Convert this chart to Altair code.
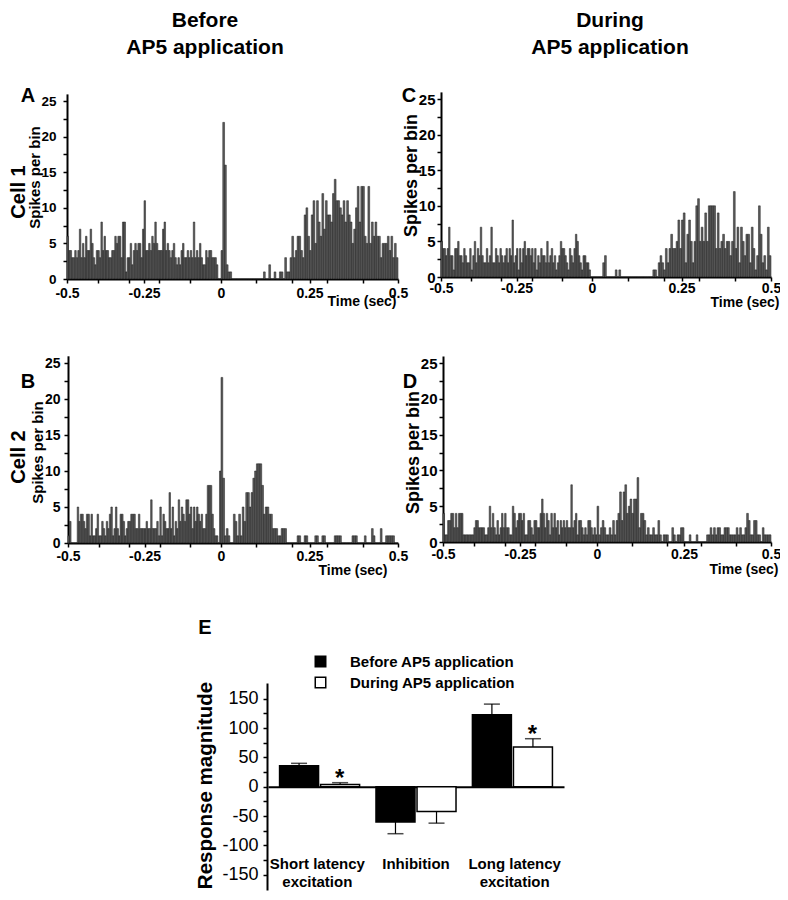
import altair as alt
import pandas as pd

FONT = "Liberation Sans"
BIN_WIDTH = 0.005
START = -0.5

# ---------------- histogram data (spikes per 5 ms bin, -0.5 .. 0.5 s) ----------------
cell1_before = [
    6, 4, 4, 3, 3, 4, 3, 4, 7, 3, 5, 3, 6, 4, 4, 7, 5, 3, 2, 4,
    4, 3, 8, 4, 6, 4, 4, 3, 3, 4, 4, 6, 5, 6, 6, 3, 8, 8, 1, 3,
    3, 5, 2, 4, 5, 4, 5, 5, 3, 7, 11, 4, 4, 5, 4, 6, 5, 8, 5, 4,
    4, 4, 7, 8, 4, 5, 4, 3, 4, 5, 3, 2, 3, 2, 4, 5, 3, 3, 4, 3,
    4, 3, 8, 3, 4, 3, 5, 3, 2, 2, 4, 3, 4, 4, 3, 3, 3, 2, 0, 0,
    4, 22, 16, 2, 1, 1, 0, 0, 0, 0, 0, 0, 0, 0, 0, 0, 0, 0, 0, 0,
    0, 0, 0, 0, 1, 0, 0, 2, 0, 0, 1, 0, 0, 1, 1, 0, 3, 1, 1, 3,
    6, 3, 4, 6, 6, 4, 3, 9, 10, 6, 4, 9, 11, 5, 11, 8, 6, 12, 7, 11,
    9, 9, 8, 12, 14, 11, 11, 10, 9, 11, 8, 11, 9, 8, 5, 7, 10, 13, 8, 13,
    13, 6, 5, 13, 5, 8, 6, 8, 6, 6, 3, 5, 5, 5, 6, 4, 6, 3, 5, 3,
]
cell1_during = [
    5, 4, 4, 3, 4, 7, 3, 3, 1, 4, 4, 5, 3, 3, 2, 4, 3, 2, 2, 4,
    1, 3, 5, 2, 4, 3, 7, 3, 2, 2, 4, 2, 3, 7, 2, 2, 4, 3, 2, 4,
    3, 2, 3, 4, 2, 4, 3, 8, 2, 3, 4, 1, 4, 2, 4, 5, 3, 4, 4, 3,
    4, 2, 4, 1, 3, 2, 4, 3, 3, 2, 5, 2, 3, 4, 2, 3, 1, 2, 3, 5,
    4, 4, 3, 2, 1, 4, 3, 2, 4, 6, 5, 3, 2, 1, 3, 3, 2, 2, 1, 0,
    0, 0, 0, 0, 0, 0, 2, 3, 0, 0, 0, 0, 0, 1, 0, 1, 0, 0, 0, 0,
    0, 0, 0, 0, 0, 0, 0, 0, 0, 0, 0, 0, 0, 0, 1, 1, 0, 2, 3, 2,
    1, 4, 2, 4, 6, 4, 4, 5, 8, 4, 8, 9, 2, 6, 8, 5, 2, 5, 10, 11,
    5, 7, 5, 9, 5, 10, 10, 10, 10, 4, 9, 4, 5, 6, 4, 5, 5, 3, 5, 12,
    4, 7, 2, 7, 5, 3, 6, 6, 2, 7, 4, 1, 3, 10, 6, 2, 3, 1, 7, 3,
]
cell2_before = [
    1, 3, 0, 0, 0, 0, 5, 3, 4, 4, 3, 2, 4, 4, 1, 4, 1, 1, 2, 4,
    1, 1, 3, 2, 1, 3, 2, 4, 5, 1, 2, 5, 2, 1, 4, 4, 3, 1, 2, 3,
    3, 4, 4, 4, 2, 2, 4, 2, 2, 2, 2, 3, 2, 2, 6, 2, 2, 2, 3, 1,
    5, 1, 4, 3, 2, 2, 7, 2, 5, 1, 3, 2, 6, 3, 5, 4, 3, 6, 6, 4,
    5, 2, 5, 3, 5, 4, 3, 4, 2, 2, 4, 8, 8, 8, 4, 2, 1, 1, 0, 10,
    23, 9, 1, 2, 1, 0, 0, 4, 3, 1, 4, 1, 5, 3, 7, 7, 5, 7, 9, 10,
    11, 11, 11, 8, 4, 5, 5, 4, 4, 2, 2, 2, 1, 1, 2, 2, 2, 0, 0, 0,
    0, 0, 0, 1, 1, 0, 0, 1, 1, 0, 0, 0, 0, 1, 1, 0, 0, 1, 1, 0,
    0, 0, 0, 0, 1, 1, 1, 1, 0, 0, 0, 0, 0, 0, 1, 1, 1, 0, 0, 0,
    0, 1, 0, 0, 0, 2, 1, 0, 0, 0, 2, 0, 0, 1, 1, 1, 1, 1, 0, 0,
]
cell2_during = [
    4, 1, 1, 3, 3, 4, 4, 2, 4, 2, 4, 4, 4, 1, 1, 1, 1, 1, 1, 1,
    2, 3, 3, 2, 2, 2, 2, 1, 1, 2, 5, 2, 4, 2, 1, 3, 1, 2, 4, 2,
    4, 2, 2, 1, 1, 5, 4, 2, 3, 4, 4, 3, 4, 1, 1, 3, 3, 2, 1, 3,
    3, 2, 2, 4, 6, 4, 2, 4, 3, 1, 4, 2, 4, 2, 3, 1, 3, 2, 3, 2,
    3, 2, 2, 8, 2, 3, 4, 1, 3, 3, 2, 1, 2, 1, 3, 3, 2, 1, 2, 1,
    5, 1, 2, 3, 2, 1, 1, 2, 1, 3, 1, 3, 4, 7, 3, 7, 8, 4, 5, 6,
    4, 6, 6, 9, 2, 4, 4, 3, 1, 2, 1, 1, 2, 1, 1, 3, 1, 0, 1, 1,
    1, 0, 0, 2, 1, 0, 1, 1, 2, 2, 0, 0, 0, 1, 0, 0, 0, 1, 0, 0,
    0, 0, 0, 1, 1, 2, 1, 2, 1, 2, 2, 1, 1, 2, 2, 2, 1, 1, 1, 1,
    2, 1, 2, 1, 1, 2, 4, 3, 1, 1, 3, 3, 1, 1, 0, 2, 1, 1, 1, 1,
]

hist_x_ticks = [-0.5, -0.4, -0.3, -0.25, -0.2, -0.1, 0, 0.1, 0.2, 0.25, 0.3, 0.4, 0.5]
hist_x_labels = [-0.5, -0.25, 0, 0.25, 0.5]
hist_y_ticks = [0, 2.5, 5, 7.5, 10, 12.5, 15, 17.5, 20, 22.5, 25]

# ---------------- panel E data ----------------
categories = ["Short latency excitation", "Inhibition", "Long latency excitation"]
category_text = ["Short latency\nexcitation", "Inhibition", "Long latency\nexcitation"]
series = ["Before AP5 application", "During AP5 application"]
before_mean = [36, -60, 123]
before_err = [4, 20, 18]
during_mean = [4, -42, 68]
during_err = [3, 20, 14]
during_significant = [True, False, True]
e_y_ticks = [-150, -125, -100, -75, -50, -25, 0, 25, 50, 75, 100, 125, 150]

header_texts = ["Before\nAP5 application", "During\nAP5 application"]
panel_letters = ["A", "B", "C", "D", "E"]
cell_texts = ["Cell 1", "Cell 2"]

W, H = 772, 884
M = 8  # page margin

XLABEL_EXPR = ("indexof([" + ",".join(str(v) for v in hist_x_labels) + "], datum.value) >= 0"
               " ? toString(datum.value) : ''")
YLABEL_EXPR = "datum.value % 5 == 0 ? toString(datum.value) : ''"


def hist_panel(counts, xs, ys, title_pos, title_size, lab_size, lab_pad, time_pos, xlab_pad):
    x0, xm, x1 = xs
    y0, ytop = ys
    df = pd.DataFrame({"start": [START + i * BIN_WIDTH for i in range(len(counts))],
                       "count": counts})
    df["end"] = df["start"] + BIN_WIDTH
    xaxis = alt.Axis(orient="bottom", offset=(y0 - M) - H, values=hist_x_ticks,
                     labelExpr=XLABEL_EXPR, labelFlush=False, labelOverlap=False,
                     title="Time (sec)", titleX=time_pos[0] - M, titleY=time_pos[1] - y0,
                     titleAlign="right", titleBaseline="middle", titleFontSize=14,
                     labelFontSize=14, labelPadding=xlab_pad, tickSize=4)
    yaxis = alt.Axis(orient="left", offset=-(x0 - M), values=hist_y_ticks,
                     labelExpr=YLABEL_EXPR, labelFlush=False, labelOverlap=False,
                     title="Spikes per bin", titleX=title_pos[0] - x0, titleY=title_pos[1] - M,
                     titleAngle=270, titleAlign="center", titleBaseline="middle",
                     titleFontSize=title_size, labelFontSize=lab_size, labelPadding=lab_pad,
                     tickSize=4)
    return alt.Chart(df).mark_bar(fill="#5e5e5e", stroke="#1a1a1a", strokeWidth=0.5).encode(
        x=alt.X("start:Q", scale=alt.Scale(domain=[-0.5, 0, 0.5],
                                           range=[x0 - M, xm - M, x1 - M], nice=False, zero=False),
                axis=xaxis),
        x2="end:Q",
        y=alt.Y("count:Q", scale=alt.Scale(domain=[0, 26], range=[y0 - M, ytop - M], nice=False),
                axis=yaxis),
        y2=alt.datum(0),
    )


hA = hist_panel(cell1_before, (67, 221, 398), (279, 93.9), (34, 177), 15, 13.5, 7, (396, 301), 3)
hC = hist_panel(cell1_during, (441, 592, 771), (277, 91.9), (411, 175), 18, 15, 2, (779, 302), 0)
hB = hist_panel(cell2_before, (68, 221, 398), (543, 355.8), (37, 452), 15, 14, 4, (387, 570), 2)
hD = hist_panel(cell2_during, (443, 597, 771), (542, 356), (413, 452), 18, 15, 2, (778, 569), 1)

# ---------------- panel E ----------------
rows = []
for i, cat in enumerate(categories):
    for name, means, errs in ((series[0], before_mean, before_err), (series[1], during_mean, during_err)):
        m, e = means[i], errs[i]
        rows.append({
            "category": cat, "series": name, "mean": m,
            "end": m + (e if m >= 0 else -e),
            "sig": "*" if (name == series[1] and during_significant[i]) else "",
        })
df_e = pd.DataFrame(rows)
df_lab = pd.DataFrame({"category": categories, "label": category_text})

E_AXIS_X = 267
E_TOP, E_BOT = 683, 890
Y_MIN, Y_MAX = -176, 177


def ex_scale():
    return alt.Scale(domain=categories, range=[268 - M, 564 - M], paddingInner=0.17, paddingOuter=0.12)


def ey_scale():
    return alt.Scale(domain=[Y_MIN, Y_MAX], range=[E_BOT - M, E_TOP - M], nice=False, zero=False)


def xoff():
    return alt.XOffset("series:N", scale=alt.Scale(domain=series, paddingInner=0.05, paddingOuter=0))


y_zero_plot = (E_BOT - M) - (0 - Y_MIN) / (Y_MAX - Y_MIN) * (E_BOT - E_TOP)

e_bars = alt.Chart(df_e).mark_bar(stroke="black", strokeWidth=1.5).encode(
    x=alt.X("category:N", scale=ex_scale(),
            axis=alt.Axis(orient="bottom", offset=y_zero_plot - H, labels=False, ticks=False,
                          title=None, domainWidth=2)),
    xOffset=xoff(),
    y=alt.Y("mean:Q", scale=ey_scale(),
            axis=alt.Axis(orient="left", offset=-(E_AXIS_X - M), values=e_y_ticks,
                          labelExpr="datum.value % 50 == 0 ? toString(datum.value) : ''",
                          labelFontWeight="normal", labelFontSize=18, labelPadding=5, tickSize=4,
                          title="Response magnitude", titleX=205 - E_AXIS_X, titleY=785 - M,
                          titleAngle=270, titleAlign="center", titleBaseline="middle",
                          titleFontSize=20.5)),
    y2=alt.datum(0),
    fill=alt.Fill("series:N", scale=alt.Scale(domain=series, range=["black", "white"]),
                  legend=alt.Legend(orient="none", legendX=305, legendY=646, title=None,
                                    symbolType="square", symbolSize=110,
                                    symbolStrokeColor="black", symbolStrokeWidth=1.5,
                                    labelFontSize=15, labelFontWeight="bold", labelFont=FONT,
                                    labelOffset=22, rowPadding=4, padding=0,
                                    labelColor="black", labelLimit=400)),
)
e_err = alt.Chart(df_e).mark_rule(color="black", strokeWidth=1.2).encode(
    x=alt.X("category:N", scale=ex_scale(), axis=None), xOffset=xoff(),
    y=alt.Y("mean:Q", scale=ey_scale(), axis=None), y2="end:Q",
)
e_caps = alt.Chart(df_e).mark_tick(orient="horizontal", color="black", size=16, thickness=1.5).encode(
    x=alt.X("category:N", scale=ex_scale(), axis=None), xOffset=xoff(),
    y=alt.Y("end:Q", scale=ey_scale(), axis=None),
)
e_stars = alt.Chart(df_e).mark_text(font=FONT, fontSize=24, fontWeight="bold", baseline="alphabetic",
                                    dx=-20, dy=3, color="black").encode(
    x=alt.X("category:N", scale=ex_scale(), axis=None), xOffset=xoff(),
    y=alt.Y("end:Q", scale=ey_scale(), axis=None), text="sig:N",
)
e_labels = alt.Chart(df_lab).mark_text(font=FONT, fontSize=15, fontWeight="bold", baseline="alphabetic",
                                       lineBreak="\n", lineHeight=18, color="black").encode(
    x=alt.X("category:N", scale=ex_scale(), axis=None), y=alt.value(869 - M), text="label:N",
)


def text_mark(text, x, y, size, angle=0, baseline="alphabetic", line_height=None):
    kw = dict(font=FONT, fontSize=size, fontWeight="bold", align="center", baseline=baseline,
              angle=angle, color="black", lineBreak="\n")
    if line_height:
        kw["lineHeight"] = line_height
    return alt.Chart(pd.DataFrame({"t": [text]})).mark_text(**kw).encode(
        x=alt.value(x - M), y=alt.value(y - M), text="t:N")


texts = [
    text_mark(header_texts[0], 205, 27, 21, line_height=27),
    text_mark(header_texts[1], 610, 27, 21, line_height=27),
    text_mark(panel_letters[0], 28, 102, 20),
    text_mark(panel_letters[1], 28, 388, 20),
    text_mark(panel_letters[2], 409, 102, 20),
    text_mark(panel_letters[3], 410, 388, 20),
    text_mark(panel_letters[4], 205, 634, 20),
    text_mark(cell_texts[0], 19, 192, 20, angle=270, baseline="middle"),
    text_mark(cell_texts[1], 19, 457, 20, angle=270, baseline="middle"),
]

chart = alt.layer(hA, hC, hB, hD, e_bars, e_err, e_caps, e_stars, e_labels, *texts).resolve_scale(
    x="independent", y="independent", xOffset="independent"
).properties(
    width=W, height=H, padding=0, autosize=alt.AutoSizeParams(type="none"),
    background="white",
).configure_view(stroke=None).configure_axis(
    grid=False, domainColor="black", tickColor="black", labelColor="black", titleColor="black",
    labelFont=FONT, titleFont=FONT, labelFontWeight="bold", titleFontWeight="bold",
    domainWidth=2, tickWidth=1.5,
)

chart.save("out.html", embed_options={"renderer": "svg", "actions": False})
